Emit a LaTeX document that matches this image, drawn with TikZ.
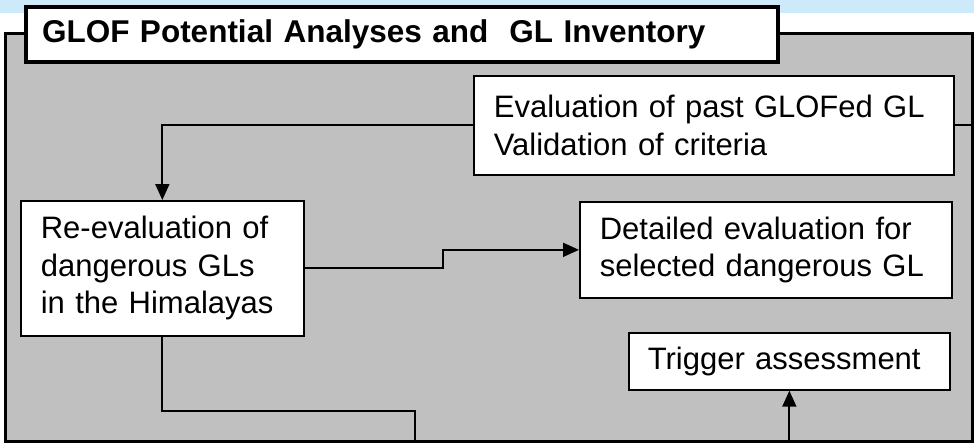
\documentclass[tikz,border=0pt]{standalone}
\usepackage{fontspec}
\setmainfont{Liberation Sans}
\usetikzlibrary{arrows.meta}
\definecolor{panelgray}{RGB}{192,192,192}
\definecolor{skyband}{RGB}{204,234,250}
\begin{document}
\begin{tikzpicture}[x=1pt,y=-1pt,
  panel/.style={draw=black, line width=2.6pt, fill=panelgray, anchor=north west, inner sep=0pt},
  box/.style={draw=black, line width=1.7pt, fill=white, anchor=north west,
    inner xsep=20pt, inner ysep=0pt, align=left,
    font=\fontsize{31}{37.5}\selectfont},
  titlebox/.style={draw=black, line width=4pt, fill=white, anchor=north west,
    inner xsep=16pt, inner ysep=0pt, align=left,
    font=\bfseries\fontsize{31.5}{37}\selectfont},
  link/.style={draw=black, line width=1.8pt},
  tip/.style={-{Triangle[length=16pt,width=14pt]}}]

% page area and light band along the top
\useasboundingbox (0,0) rectangle (974,442);
\fill[white] (0,0) rectangle (974,442);
\fill[skyband] (0,0) rectangle (974,13);

% grey panel holding the flow
\node[panel, minimum width=967pt, minimum height=408pt] (panel) at (4,32) {};

% bend point of the outgoing line at the bottom left
\coordinate (outA) at (415,411);

% boxes
\node[box, minimum width=480pt, minimum height=99pt, text width=440pt] (eval) at (473,75)
  {Evaluation of past GLOFed GL\\Validation of criteria};
\node[box, minimum width=283pt, minimum height=135pt, text width=243pt] (reeval) at (20,200)
  {Re-evaluation of\\dangerous GLs\\in the Himalayas};
\node[box, minimum width=372pt, minimum height=96pt, text width=332pt] (detail) at (579,201)
  {Detailed evaluation for\\selected dangerous GL};
\node[box, minimum width=321pt, minimum height=57pt, text width=283pt, inner xsep=19pt] (trig) at (628,332)
  {Trigger assessment};

% connectors
\draw[link] (panel.east |- eval.west) -- (eval.east);
\draw[link,tip] (eval.west) -| (reeval.north);
\draw[link,tip] (reeval.east) -- ++(138,0) |- (detail.west);
\draw[link] (reeval.south) |- (outA) -- (outA |- panel.south);
\draw[link,tip] (trig.south |- panel.south) -- (trig.south);

% title tab
\node[titlebox, minimum width=752pt, minimum height=55pt, text width=720pt] (title) at (24,5)
  {GLOF Potential Analyses and\ \ GL Inventory};
\end{tikzpicture}
\end{document}
